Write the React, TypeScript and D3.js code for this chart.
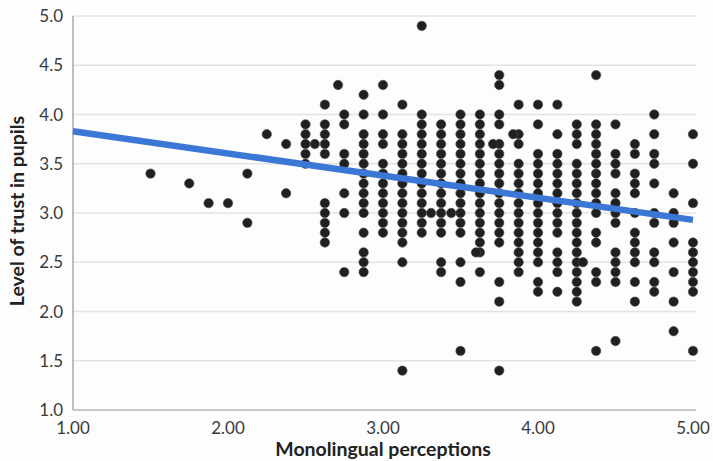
import React from "react";
import * as d3 from "d3";

const W = 713;
const H = 461;

// x-position of each column of points (Monolingual perceptions)
const columnX = [
  1.5, 1.75, 1.875, 2.0, 2.125, 2.25, 2.375, 2.5, 2.625, 2.75, 2.875, 3.0, 3.125, 3.25,
  3.375, 3.5, 3.625, 3.75, 3.875, 4.0, 4.125, 4.25, 4.375, 4.5, 4.625, 4.75, 4.875, 5.0,
];

// Level of trust values in each column
const columnY: number[][] = [
  [3.4],
  [3.3],
  [3.1],
  [3.1],
  [3.4, 2.9],
  [3.8],
  [3.7, 3.2],
  [3.9, 3.8, 3.7, 3.6, 3.5],
  [4.1, 3.9, 3.8, 3.7, 3.6, 3.1, 3.0, 2.9, 2.8, 2.7],
  [4.0, 3.9, 3.6, 3.5, 3.2, 3.0, 2.4],
  [4.2, 4.0, 3.8, 3.7, 3.6, 3.5, 3.4, 3.3, 3.2, 3.1, 3.0, 2.8, 2.6, 2.5, 2.4],
  [4.3, 4.0, 3.8, 3.7, 3.5, 3.4, 3.3, 3.2, 3.1, 3.0, 2.9, 2.8],
  [4.1, 3.8, 3.7, 3.6, 3.5, 3.4, 3.3, 3.2, 3.1, 3.0, 2.9, 2.8, 2.7, 2.5, 1.4],
  [4.9, 4.0, 3.9, 3.8, 3.7, 3.6, 3.5, 3.4, 3.3, 3.2, 3.1, 3.0, 2.9, 2.8],
  [3.9, 3.8, 3.7, 3.6, 3.5, 3.4, 3.3, 3.2, 3.1, 3.0, 2.9, 2.8, 2.5, 2.4],
  [4.0, 3.9, 3.8, 3.7, 3.6, 3.5, 3.4, 3.3, 3.2, 3.1, 3.0, 2.9, 2.8, 2.5, 2.3, 1.6],
  [4.0, 3.9, 3.8, 3.7, 3.6, 3.5, 3.4, 3.3, 3.2, 3.1, 3.0, 2.9, 2.8, 2.7, 2.6, 2.4],
  [4.4, 4.3, 4.0, 3.9, 3.7, 3.6, 3.5, 3.4, 3.3, 3.2, 3.1, 3.0, 2.9, 2.8, 2.7, 2.3, 2.1, 1.4],
  [4.1, 3.8, 3.7, 3.5, 3.4, 3.3, 3.2, 3.1, 3.0, 2.9, 2.8, 2.7, 2.6, 2.5, 2.4],
  [4.1, 3.9, 3.6, 3.5, 3.4, 3.3, 3.2, 3.1, 3.0, 2.9, 2.8, 2.7, 2.6, 2.5, 2.3, 2.2],
  [4.1, 3.8, 3.6, 3.5, 3.4, 3.3, 3.2, 3.1, 3.0, 2.9, 2.8, 2.6, 2.5, 2.4, 2.2],
  [3.9, 3.8, 3.7, 3.5, 3.4, 3.3, 3.2, 3.1, 3.0, 2.9, 2.8, 2.7, 2.6, 2.5, 2.4, 2.3, 2.2, 2.1],
  [4.4, 3.9, 3.8, 3.7, 3.6, 3.5, 3.4, 3.3, 3.2, 3.1, 3.0, 2.8, 2.7, 2.4, 2.3, 1.6],
  [3.9, 3.6, 3.5, 3.4, 3.2, 3.1, 3.0, 2.9, 2.6, 2.5, 2.4, 2.3, 1.7],
  [3.7, 3.6, 3.4, 3.3, 3.2, 3.0, 2.8, 2.7, 2.6, 2.5, 2.3, 2.1],
  [4.0, 3.8, 3.6, 3.5, 3.3, 3.0, 2.9, 2.6, 2.5, 2.3, 2.2],
  [3.2, 3.0, 2.9, 2.7, 2.4, 2.1, 1.8],
  [3.8, 3.5, 3.1, 2.7, 2.6, 2.5, 2.4, 2.3, 2.2, 1.6],
];

// off-column points
const extraX = [2.56, 2.71, 3.31, 3.44, 3.6, 3.71, 3.84, 4.29];
const extraY = [3.7, 4.3, 3.0, 3.0, 2.6, 3.7, 3.8, 2.5];

// linear trend line end points
const trendX = [1.0, 5.0];
const trendY = [3.83, 2.93];

const yTicks = [1.0, 1.5, 2.0, 2.5, 3.0, 3.5, 4.0, 4.5, 5.0];
const xTicks = [1, 2, 3, 4, 5];

export default function App() {
  const x = d3.scaleLinear().domain([1, 5]).range([73, 693]);
  const y = d3.scaleLinear().domain([1, 5]).range([410, 16]);

  const points: [number, number][] = [];
  columnX.forEach((cx, i) => columnY[i].forEach((v) => points.push([cx, v])));
  extraX.forEach((ex, i) => points.push([ex, extraY[i]]));

  const line = d3
    .line<number>()
    .x((d) => x(trendX[d]))
    .y((d) => y(trendY[d]));

  const font = "Lato, 'Open Sans', 'DejaVu Sans', sans-serif";

  return (
    <svg
      width={W}
      height={H}
      style={{ position: "absolute", left: 0, top: 0, background: "#ffffff" }}
    >
      <rect x={0} y={0} width={W} height={H} fill="#fdfdfd" />
      {yTicks.slice(1).map((t) => (
        <line
          key={"g" + t}
          x1={x(1)}
          x2={696}
          y1={y(t)}
          y2={y(t)}
          stroke="#e3e3e3"
          strokeWidth={1.5}
        />
      ))}
      <line x1={x(1)} x2={696} y1={y(1)} y2={y(1)} stroke="#c8c8c8" strokeWidth={2} />
      <line x1={x(1)} x2={x(1)} y1={y(5)} y2={y(1)} stroke="#a8a8a8" strokeWidth={1.5} />
      {yTicks.map((t) => (
        <text
          key={"yt" + t}
          x={63}
          y={y(t)}
          dy="0.36em"
          textAnchor="end"
          fontFamily={font}
          fontSize={17}
          fill="#3a3a3a"
        >
          {d3.format(".1f")(t)}
        </text>
      ))}
      {xTicks.map((t) => (
        <text
          key={"xt" + t}
          x={x(t)}
          y={434}
          textAnchor="middle"
          fontFamily={font}
          fontSize={17}
          fill="#3a3a3a"
        >
          {d3.format(".2f")(t)}
        </text>
      ))}
      <g>
        {points.map(([px, py], i) => (
          <circle key={i} cx={x(px)} cy={y(py)} r={4.7} fill="#202020" stroke="#4a4a4a" strokeWidth={0.6} />
        ))}
      </g>
      <path d={line([0, 1]) || ""} stroke="#3b78d6" strokeWidth={6.5} fill="none" />
      <text
        x={383}
        y={456}
        textAnchor="middle"
        fontFamily={font}
        fontSize={19.5}
        fontWeight="bold"
        fill="#222"
      >
        Monolingual perceptions
      </text>
      <text
        transform={`translate(24, 211) rotate(-90)`}
        textAnchor="middle"
        fontFamily={font}
        fontSize={19.5}
        fontWeight="bold"
        fill="#222"
      >
        Level of trust in pupils
      </text>
    </svg>
  );
}
